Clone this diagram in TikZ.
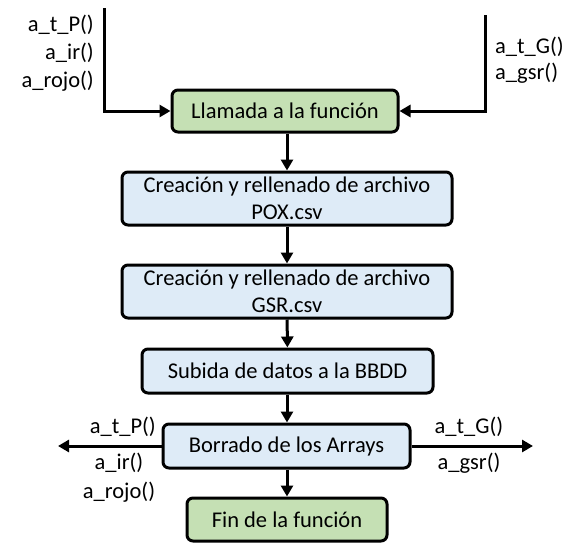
\documentclass[tikz,border=0pt]{standalone}
\usepackage{fontspec}
\setmainfont{Carlito}
\usetikzlibrary{arrows.meta}
\definecolor{boxgreen}{HTML}{C5E0B4}
\definecolor{boxblue}{HTML}{DEEBF7}
\begin{document}
\begin{tikzpicture}[x=1pt,y=-1pt,
  every node/.style={font=\fontsize{22.5}{27}\selectfont, inner sep=0pt},
  boxbase/.style={draw=black, line width=3pt, rounded corners=6pt, align=center},
  greenbox/.style={boxbase, fill=boxgreen},
  bluebox/.style={boxbase, fill=boxblue},
  conn/.style={line width=3pt, -{Triangle[length=11pt,width=12pt]}},
  lbl/.style={align=center}
]
\useasboundingbox (0,0) rectangle (587,549);
\node[greenbox, minimum width=226pt, minimum height=42pt] (b1) at (285,111) {Llamada a la función};
\node[bluebox, minimum width=330pt, minimum height=53pt] (b2) at (287,198.5) {Creación y rellenado de archivo\\POX.csv};
\node[bluebox, minimum width=330pt, minimum height=53pt] (b3) at (287,291.5) {Creación y rellenado de archivo\\GSR.csv};
\node[bluebox, minimum width=291pt, minimum height=44pt] (b4) at (287.5,371) {Subida de datos a la BBDD};
\node[bluebox, minimum width=247pt, minimum height=44pt] (b5) at (286.5,446) {Borrado de los Arrays};
\node[greenbox, minimum width=200pt, minimum height=43pt] (b6) at (287,519.5) {Fin de la función};

\coordinate (lt) at (104,8);
\coordinate (lc) at (104,111);
\coordinate (rt) at (485,15);
\coordinate (rc) at (485,111);
\coordinate (la) at (58,446);
\coordinate (ra) at (533,446);

\draw[conn] (lt) -- (lc) -- (b1.west);
\draw[conn] (rt) -- (rc) -- (b1.east);
\draw[conn] (b1.south -| 287,0) -- (b2.north);
\draw[conn] (b2) -- (b3);
\draw[conn] (b3) -- (b4);
\draw[conn] (b4.south -| 287,0) -- (b5.north -| 287,0);
\draw[conn] (b5.south -| 287,0) -- (b6.north -| 287,0);
\draw[conn] (b5.west) -- (la);
\draw[conn] (b5.east) -- (ra);

\node[anchor=east, align=right, font=\fontsize{22.5}{28}\selectfont] (l1) at (94,53) {a\_t\_P()\\a\_ir()\\a\_rojo()};
\node[anchor=west, align=left, font=\fontsize{22.5}{26}\selectfont] (r1) at (495,60) {a\_t\_G()\\a\_gsr()};
\node[anchor=east] (l2) at (156,427) {a\_t\_P()};
\node[align=center, font=\fontsize{22.5}{29}\selectfont] (l3) at (119,477.5) {a\_ir()\\a\_rojo()};
\node (r2) at (469,427) {a\_t\_G()};
\node (r3) at (469,463) {a\_gsr()};
\end{tikzpicture}
\end{document}
